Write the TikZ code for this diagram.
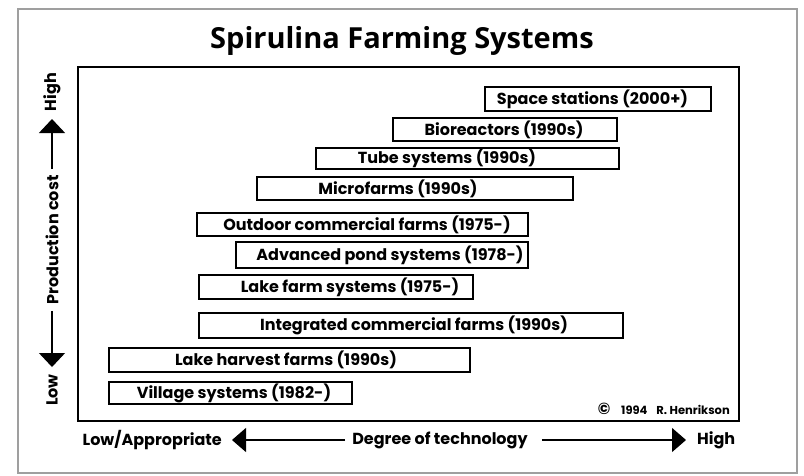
\documentclass[tikz,border=0pt]{standalone}
\usepackage{fontspec}
\setmainfont{Poppins}
\newfontfamily\titlefont{Open Sans}
\usetikzlibrary{arrows.meta}
\newcommand\farmitem[7]{%
  \node[fbox, minimum width={#4-#2}, minimum height={#5-#3}] (#1) at ({(#2+#4)/2},{(#3+#5)/2}) {};
  \node[ftext] (#1-t) at (#6,{(#3+#5)/2}) {#7};
}
\begin{document}
\begin{tikzpicture}[x=1pt,y=-1pt,
  fbox/.style={draw, line width=1.8pt, rectangle, inner sep=0pt},
  ftext/.style={font=\fontsize{16}{16}\selectfont\bfseries, inner sep=0pt},
  axtext/.style={font=\fontsize{16}{16}\selectfont\bfseries, inner sep=0pt},
  axarrow/.style={line width=1.2pt, -{Triangle[width=26pt,length=14pt]}},
  haxarrow/.style={line width=1.2pt, -{Triangle[width=24pt,length=14pt]}}]
\useasboundingbox (0,0) rectangle (804,475);
\fill[white] (0,0) rectangle (804,475);
% outer border
\draw[gray!75, line width=1.6pt] (18,9) rectangle (797,473);
% title
\node[font=\titlefont\bfseries\fontsize{29}{29}\selectfont, anchor=base, inner sep=0pt] (title) at (402,48) {Spirulina Farming Systems};
% inner frame
\draw[line width=2pt] (78,67) rectangle (739,421);
% farm boxes
\farmitem{space}{485}{87}{711}{111}{592.5}{Space stations (2000+)}
\farmitem{bio}{393}{118}{617}{141}{504}{Bioreactors (1990s)}
\farmitem{tube}{316}{148}{619}{169}{447}{Tube systems (1990s)}
\farmitem{micro}{257}{177}{573}{200}{398}{Microfarms (1990s)}
\farmitem{outdoor}{197}{213}{528}{236}{367}{Outdoor commercial farms (1975-)}
\farmitem{adv}{236}{242}{528}{268}{390}{Advanced pond systems (1978-)}
\farmitem{lakefarm}{199}{275}{473}{299}{350}{Lake farm systems (1975-)}
\farmitem{integ}{199}{313}{623}{338}{414}{Integrated commercial farms (1990s)}
\farmitem{lakeharv}{109}{348}{470}{372}{286}{Lake harvest farms (1990s)}
\farmitem{village}{109}{382}{352}{404}{234}{Village systems (1982-)}
% copyright
\node[anchor=east, inner sep=0pt, font=\fontsize{11.5}{11.5}\selectfont\bfseries] (copy) at (730,409) {{\fontsize{16}{16}\selectfont\textcopyright}\hspace{11pt}1994\hspace{9pt}R. Henrikson};
% vertical axis
\node[axtext, rotate=90] (vhigh) at (52,92) {High};
\node[axtext, rotate=90] (pc) at (52,240) {Production cost};
\node[axtext, rotate=90] (vlow) at (52,390) {Low};
\coordinate (uptip) at (52,119);
\coordinate (dntip) at (52,367);
\draw[axarrow] (pc.east) ++(0,-6) coordinate (pcu) -- (uptip);
\draw[axarrow] (pc.west) ++(0,6) coordinate (pcd) -- (dntip);
% horizontal axis
\node[axtext, anchor=east] (hlow) at (222,440) {Low/Appropriate};
\node[axtext] (deg) at (440,440) {Degree of technology};
\node[axtext, anchor=west] (hhigh) at (697,440) {High};
\coordinate (lefttip) at (232,440);
\coordinate (righttip) at (686,440);
\draw[haxarrow, shorten <=7pt] (deg.west) -- (lefttip);
\draw[haxarrow, shorten <=14pt] (deg.east) -- (righttip);
\end{tikzpicture}
\end{document}
